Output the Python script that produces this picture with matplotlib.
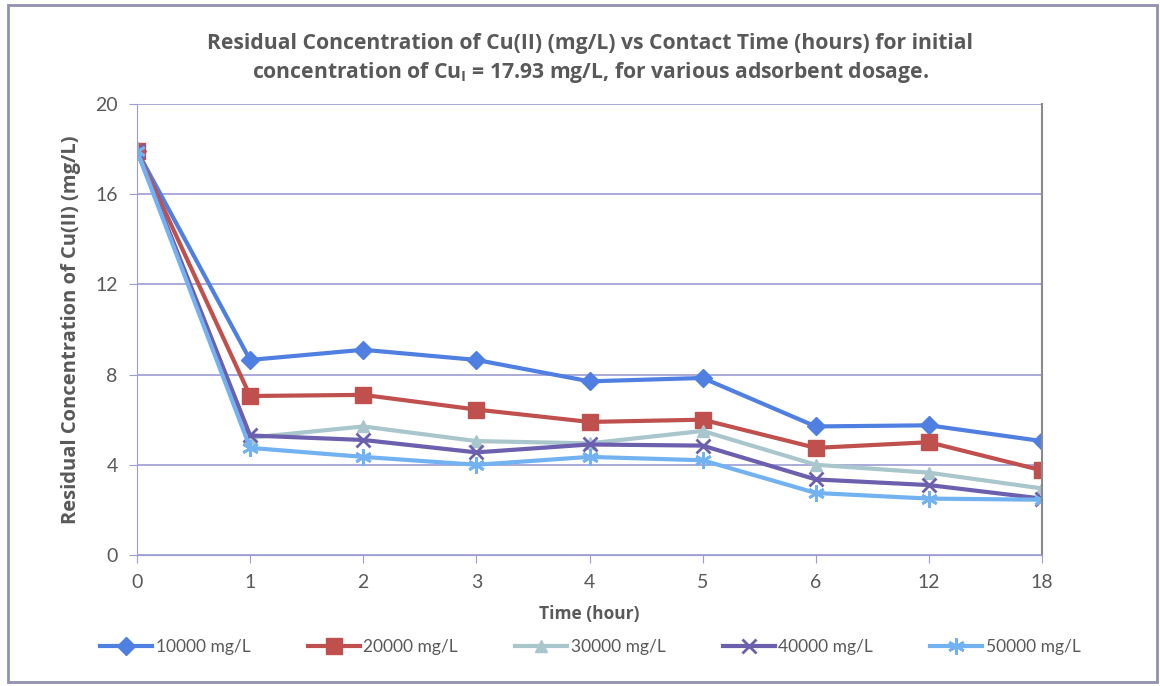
import matplotlib
matplotlib.use("Agg")
import matplotlib.pyplot as plt
from matplotlib.patches import Rectangle

# contact time categories (hours) - plotted as evenly spaced categories
times = ["0", "1", "2", "3", "4", "5", "6", "12", "18"]

dose_10000 = [17.93, 8.65, 9.1, 8.65, 7.7, 7.85, 5.7, 5.75, 5.05]
dose_20000 = [17.93, 7.05, 7.1, 6.45, 5.9, 6.0, 4.75, 5.0, 3.75]
dose_30000 = [17.93, 5.2, 5.7, 5.05, 4.95, 5.5, 4.0, 3.65, 2.95]
dose_40000 = [17.93, 5.3, 5.1, 4.55, 4.9, 4.85, 3.35, 3.1, 2.5]
dose_50000 = [17.93, 4.75, 4.35, 4.0, 4.35, 4.2, 2.75, 2.5, 2.45]

names = ["10000 mg/L", "20000 mg/L", "30000 mg/L", "40000 mg/L", "50000 mg/L"]
series = [dose_10000, dose_20000, dose_30000, dose_40000, dose_50000]
colors = ["#4f7fe0", "#c0504d", "#a8c6cc", "#6b5fae", "#72b2f0"]
markers = ["D", "s", "^", "x", (6, 2, 0)]
msizes = [9, 11, 9, 10, 12]

plt.rcParams['font.family'] = ['Lato', 'DejaVu Sans']
grey = '#595959'
bold_font = ['Open Sans', 'DejaVu Sans']

fig = plt.figure(figsize=(11.6, 6.86), dpi=100)
ax = fig.add_axes([0.1181, 0.191, 0.7802, 0.6574])

xpos = list(range(len(times)))
for vals, name, c, m, ms in zip(series, names, colors, markers, msizes):
    ax.plot(xpos, vals, color=c, marker=m, markersize=ms, linewidth=3,
            markeredgewidth=2 if m in ("x", (6, 2, 0)) else 1,
            markeredgecolor=c, label=name)

ax.set_xlim(0, len(times) - 1)
ax.set_ylim(0, 20)
ax.set_yticks([0, 4, 8, 12, 16, 20])
ax.set_xticks(xpos)
ax.set_xticklabels(times)

ax.grid(axis='y', color='#9c9cd4', linewidth=1.2)
ax.set_axisbelow(True)
ax.spines["top"].set_visible(False)
ax.spines["right"].set_color("#8a8a8a")
ax.spines["right"].set_linewidth(1.5)
ax.spines["left"].set_color("#9c9cd4")
ax.spines["bottom"].set_color("#9c9cd4")
ax.tick_params(axis='both', direction='out', length=6, color='#9c9cd4',
               labelcolor=grey, labelsize=14, pad=8)

ax.set_xlabel("Time (hour)", fontsize=12.5, fontweight='bold', color=grey,
              labelpad=10, family=bold_font)
ax.set_ylabel("Residual Concentration of Cu(II) (mg/L)", fontsize=14.5,
              fontweight='bold', color=grey, labelpad=10, family=bold_font)

fig.text(0.509, 0.914,
         "Residual Concentration of Cu(II) (mg/L) vs Contact Time (hours) for initial\n"
         "concentration of Cu$_\\mathregular{I}$ = 17.93 mg/L, for various adsorbent dosage.",
         ha='center', va='center', fontsize=15.2, fontweight='bold', color=grey,
         linespacing=1.3, family=bold_font)

fig.legend(loc='center', bbox_to_anchor=(0.509, 0.057), ncol=5, frameon=False,
           fontsize=12.5, handlelength=3.0, columnspacing=3.3, handletextpad=0.2,
           labelcolor=grey)

fig.patches.append(Rectangle((8 / 1160, 4 / 686), 1149 / 1160, 677 / 686,
                             transform=fig.transFigure, fill=False,
                             edgecolor='#9090b0', linewidth=2))

fig.savefig("out.png", dpi=100)
